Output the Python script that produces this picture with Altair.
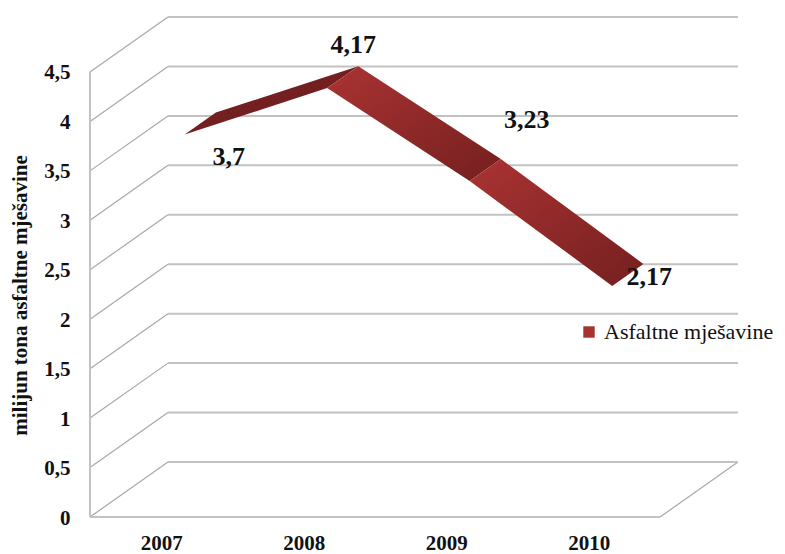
import altair as alt
import pandas as pd

YEARS = [2007, 2008, 2009, 2010]
VALUES = [3.7, 4.17, 3.23, 2.17]
LABELS = ["3,7", "4,17", "3,23", "2,17"]
TICKS = [0, 0.5, 1, 1.5, 2, 2.5, 3, 3.5, 4, 4.5]
SERIES = "Asfaltne mješavine"
Y_TITLE = "milijun tona asfaltne mješavine"

# oblique projection of the 3-D box, in data units
DX, DY = 0.547, 0.556
FRONT, BACK = 0.30, 0.70
N = len(YEARS)
X_MAX, Y_MAX = N + DX, 4.5 + DY

FONT = "Liberation Serif"
INK = "#111111"
GRID = "#c2c2c2"
DIAG = "#a8a8a8"

diag = pd.DataFrame(
    [{"lvl": t, "o": i, "x": i * DX, "y": t + i * DY} for t in TICKS for i in (0, 1)]
    + [{"lvl": -1, "o": 0, "x": N, "y": 0}, {"lvl": -1, "o": 1, "x": N + DX, "y": DY}]
)
horiz = pd.DataFrame(
    [{"lvl": t, "o": 0, "x": DX, "y": t + DY} for t in TICKS]
    + [{"lvl": t, "o": 1, "x": N + DX, "y": t + DY} for t in TICKS]
    + [{"lvl": -1, "o": 0, "x": 0, "y": 0}, {"lvl": -1, "o": 1, "x": N, "y": 0}]
    + [{"lvl": -2, "o": 0, "x": 0, "y": 0}, {"lvl": -2, "o": 1, "x": 0, "y": 4.5}]
)

x_scale = alt.Scale(domain=[0, X_MAX], nice=False, zero=False)
y_scale = alt.Scale(domain=[0, Y_MAX], nice=False, zero=False)
X = alt.X("x:Q", scale=x_scale, title=None, axis=alt.Axis(
    values=[i + 0.5 for i in range(N)], title=None, domain=False, ticks=False, grid=False,
    labelExpr=f"{YEARS[0]} + floor(datum.value)", labelFont=FONT, labelFontSize=21,
    labelFontWeight="bold", labelColor=INK, labelPadding=15, labelOverlap=False))
Y = alt.Y("y:Q", scale=y_scale, title=Y_TITLE, axis=alt.Axis(
    values=TICKS, title=Y_TITLE, domain=False, ticks=False, grid=False,
    labelExpr="replace(format(datum.value, '.2~f'), '.', ',')", labelFont=FONT, labelFontSize=21,
    labelFontWeight="bold", labelColor=INK, labelPadding=20, labelOverlap=False,
    labelBaseline="middle", labelOffset=1, titleFont=FONT, titleFontSize=21, titleFontWeight="bold",
    titleColor=INK, titleX=-60, titleY=278))


def quad(i):
    a, b = i, i + 1
    pts = [(a + 0.5 + FRONT * DX, VALUES[a] + FRONT * DY),
           (b + 0.5 + FRONT * DX, VALUES[b] + FRONT * DY),
           (b + 0.5 + BACK * DX, VALUES[b] + BACK * DY),
           (a + 0.5 + BACK * DX, VALUES[a] + BACK * DY)]
    return pd.DataFrame([{"o": k, "x": p[0], "y": p[1]} for k, p in enumerate(pts)])


def grad(c0, c1):
    return alt.LinearGradient(
        gradient="linear", x1=0, y1=0, x2=1, y2=1,
        stops=[alt.GradientStop(offset=0, color=c0), alt.GradientStop(offset=1, color=c1)],
    )


SHADES = [("#7d2323", "#6a1c1c"), ("#aa3333", "#751f1f"), ("#aa3333", "#751f1f")]

layers = [
    alt.Chart(diag).mark_line(color=DIAG, strokeWidth=1.2).encode(x=X, y=Y, detail="lvl:N", order="o:Q"),
    alt.Chart(horiz).mark_line(color=GRID, strokeWidth=2).encode(x=X, y=Y, detail="lvl:N", order="o:Q"),
]

for i, (c0, c1) in enumerate(SHADES):
    layers.append(alt.Chart(quad(i)).mark_line(fill=grad(c0, c1), strokeWidth=0).encode(x=X, y=Y, order="o:Q"))

OFFSETS = [(44, 22), (26, -43), (57, -61), (37, -9)]
for i, (dx, dy) in enumerate(OFFSETS):
    d = pd.DataFrame({"x": [i + 0.5 + FRONT * DX], "y": [VALUES[i] + FRONT * DY], "t": [LABELS[i]]})
    layers.append(alt.Chart(d).mark_text(
        dx=dx, dy=dy, font=FONT, fontSize=26, fontWeight="bold", color=INK
    ).encode(x=X, y=Y, text="t:N"))

legend_pt = alt.Chart(pd.DataFrame({"x": [0.5], "y": [1.0], "s": [SERIES]})).mark_point(
    size=0, filled=True, opacity=0
).encode(
    x=X, y=Y,
    color=alt.Color("s:N", scale=alt.Scale(domain=[SERIES], range=["#a83232"]), legend=alt.Legend(
        orient="none", legendX=488, legendY=304, title=None, symbolType="square", symbolSize=130,
        symbolOpacity=1, labelFont=FONT, labelFontSize=22, labelColor=INK, labelLimit=300,
    )),
)
layers.append(legend_pt)

chart = alt.layer(*layers).properties(
    width=648, height=500,
    padding={"left": 82, "top": 9, "right": 39, "bottom": 37},
    autosize=alt.AutoSizeParams(type="none"),
).configure_view(stroke=None)

chart.save("out.html", embed_options={"renderer": "svg", "actions": False})
